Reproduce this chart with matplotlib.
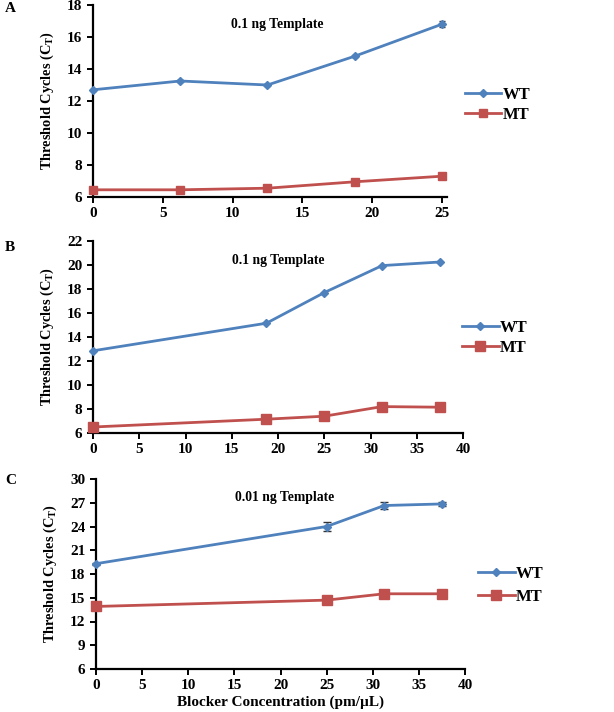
import numpy as np
import matplotlib
matplotlib.use('Agg')
import matplotlib.pyplot as plt
from matplotlib.lines import Line2D

plt.rcParams['font.family'] = ['Liberation Serif', 'DejaVu Serif']
plt.rcParams['font.weight'] = 'bold'

# panel A (0.1 ng template)
xA = [0, 6.25, 12.5, 18.75, 25]
wtA = [12.7, 13.25, 13.0, 14.8, 16.8]
wtA_err = [0.05, 0.05, 0.05, 0.05, 0.2]
mtA = [6.45, 6.45, 6.55, 6.95, 7.3]

# panel B (0.1 ng template)
xB = [0, 18.75, 25, 31.25, 37.5]
wtB = [12.85, 15.15, 17.7, 19.95, 20.25]
mtB = [6.5, 7.15, 7.4, 8.2, 8.15]

# panel C (0.01 ng template)
xC = [0, 25, 31.25, 37.5]
wtC = [19.3, 24.0, 26.65, 26.85]
wtC_err = [0.1, 0.6, 0.4, 0.3]
mtC = [13.9, 14.7, 15.5, 15.5]

blue = '#4F81BD'
red = '#C0504D'

fig = plt.figure(figsize=(6.14, 7.12), dpi=100)

def px(l, t, r, b):
    W, H = 614, 712
    return [l / W, 1 - b / H, (r - l) / W, (b - t) / H]

def setup(ax, xlim, ylim, yticks, xticks, title, title_xy, letter, letter_y, leg_anchor, ms_mt, spacing):
    ax.set_xlim(*xlim)
    ax.set_ylim(*ylim)
    ax.set_yticks(yticks)
    ax.set_xticks(xticks)
    for s in ['top', 'right']:
        ax.spines[s].set_visible(False)
    for s in ['left', 'bottom']:
        ax.spines[s].set_linewidth(1.6)
    ax.tick_params(direction='out', width=1.4, length=4, labelsize=11)
    for lab in ax.get_xticklabels() + ax.get_yticklabels():
        lab.set_fontweight('bold')
    ax.set_ylabel(r'Threshold Cycles (C$_\mathregular{T}$)', fontsize=10.4, fontweight='bold', labelpad=8)
    ax.text(title_xy[0], title_xy[1], title, transform=ax.transAxes, fontsize=9.8,
            fontweight='bold', ha='center', va='center')
    fig.text(5 / 614, 1 - letter_y / 712, letter, fontsize=11, fontweight='bold', va='center')
    handles = [Line2D([], [], color=blue, marker='D', ms=4.5, lw=2),
               Line2D([], [], color=red, marker='s', ms=ms_mt, lw=2)]
    ax.legend(handles, ['WT', 'MT'], loc='center left', bbox_to_anchor=leg_anchor, frameon=False,
              handlelength=2.2, handletextpad=0.1, labelspacing=spacing,
              prop={'weight': 'bold', 'size': 12}, borderaxespad=0, borderpad=0)

# A
axA = fig.add_axes(px(93, 5, 447, 197))
axA.errorbar(xA, wtA, yerr=wtA_err, color=blue, marker='D', ms=4.5, lw=2, capsize=2.5,
             elinewidth=1, ecolor='#333333', clip_on=False, zorder=3)
axA.plot(xA, mtA, color=red, marker='s', ms=6, lw=2, clip_on=False, zorder=3)
setup(axA, (0, 25.36), (6, 18), np.arange(6, 19, 2), np.arange(0, 26, 5),
      '0.1 ng Template', (0.52, 0.9), 'A', 8, (1.05, 0.48), 6, 0.2)

# B
axB = fig.add_axes(px(93, 241, 463, 433))
axB.plot(xB, wtB, color=blue, marker='D', ms=4.5, lw=2, clip_on=False, zorder=3)
axB.plot(xB, mtB, color=red, marker='s', ms=7, lw=2, clip_on=False, zorder=3)
setup(axB, (0, 40), (6, 22), np.arange(6, 23, 2), np.arange(0, 41, 5),
      '0.1 ng Template', (0.5, 0.9), 'B', 247, (0.997, 0.495), 7, 0.2)

# C
axC = fig.add_axes(px(96, 479, 465, 669))
axC.errorbar(xC, wtC, yerr=wtC_err, color=blue, marker='D', ms=4.5, lw=2, capsize=3,
             elinewidth=1, ecolor='#333333', clip_on=False, zorder=3)
axC.plot(xC, mtC, color=red, marker='s', ms=7, lw=2, clip_on=False, zorder=3)
setup(axC, (0, 40), (6, 30), np.arange(6, 31, 3), np.arange(0, 41, 5),
      '0.01 ng Template', (0.51, 0.9), 'C', 480, (1.035, 0.44), 7, 0.45)
axC.set_xlabel('Blocker Concentration (pm/µL)', fontsize=11, fontweight='bold', labelpad=2)

fig.savefig('out.png', dpi=100)
